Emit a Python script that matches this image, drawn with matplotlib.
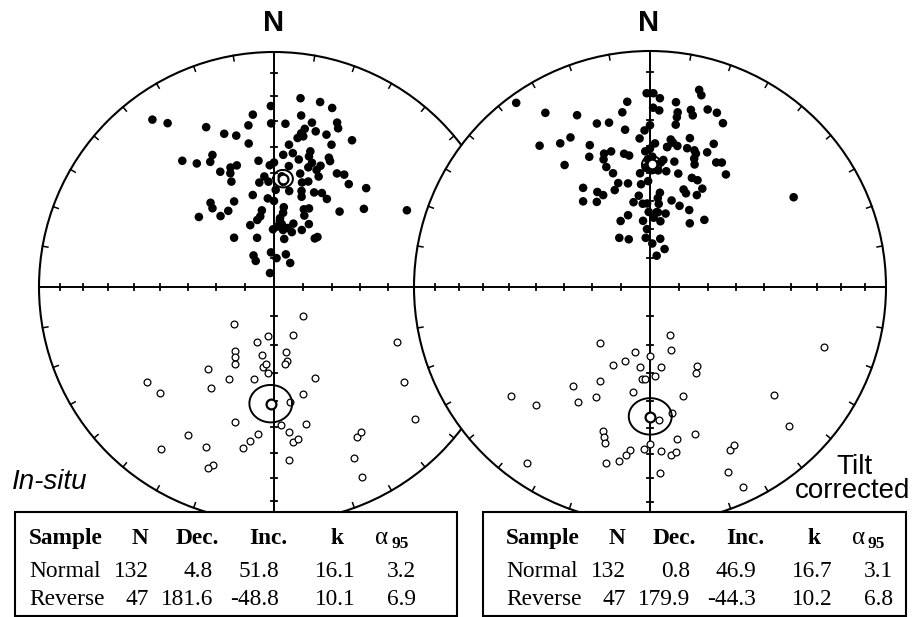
import numpy as np
import matplotlib.pyplot as plt
from matplotlib.patches import Circle, Rectangle

W, H = 917, 617

# site directions, in-situ (geographic) coordinates
insitu_normal_dec = [324, 327, 337, 353, 359, 8, 14, 18, 9, 4,
                     359, 351, 342, 346, 350, 13, 11, 10, 15, 19,
                     21, 22, 28, 9, 11, 6, 22, 15, 4, 8,
                     324, 328, 335, 333, 335, 340, 343, 339, 338, 353,
                     358, 0, 7, 11, 15, 17, 16, 21, 23, 24,
                     20, 13, 22, 29, 32, 36, 43, 4, 5, 355,
                     352, 357, 1, 9, 15, 18, 16, 17, 23, 27,
                     31, 347, 356, 0, 323, 335, 322, 329, 323, 313,
                     41, 49, 60, 7, 7, 21, 24, 23, 351, 349,
                     346, 339, 5, 7, 17, 13, 359, 18, 26, 29,
                     12, 321, 341, 40, 41, 327, 325, 355, 5, 20,
                     34, 344, 5, 3, 9]
insitu_normal_inc = [13, 18, 27, 27, 24, 20, 20, 21, 27, 31,
                     31, 31, 32, 34, 38, 29, 32, 34, 32, 32,
                     26, 28, 30, 36, 35, 39, 35, 40, 43, 42,
                     34, 38, 38, 40, 45, 45, 45, 47, 50, 45,
                     47, 46, 47, 44, 42, 44, 46, 44, 40, 41,
                     46, 49, 48, 44, 43, 45, 42, 51, 53, 51,
                     53, 53, 56, 56, 52, 51, 55, 57, 54, 53,
                     54, 57, 59, 60, 53, 57, 55, 59, 59, 54,
                     55, 48, 35, 62, 64, 61, 60, 63, 63, 65,
                     66, 67, 66, 68, 67, 69, 70, 70, 68, 65,
                     73, 68, 72, 68, 67, 77, 79, 78, 80, 78,
                     80, 85, 67, 69, 70]
insitu_reverse_dec = [135, 227, 187, 158, 114, 197, 211, 209, 190, 170,
                      170, 207, 188, 186, 172, 184, 219, 156, 126, 233,
                      206, 192, 227, 212, 165, 172, 196, 177, 167, 133,
                      210, 174, 173, 171, 186, 189, 151, 149, 215, 203,
                      191, 175, 155, 199, 200, 155]
insitu_reverse_inc = [-76, -71, -73, -72, -42, -70, -64, -62, -66, -67,
                      -64, -60, -62, -63, -63, -60, -53, -55, -32, -33,
                      -54, -57, -34, -48, -51, -49, -40, -41, -40, -19,
                      -28, -38, -34, -35, -37, -34, -28, -29, -17, -27,
                      -31, -27, -21, -21, -19, -12]

# site directions after tilt correction
tilt_normal_dec = [324, 329, 337, 322, 328, 332, 325, 337, 335, 342,
                   346, 353, 351, 351, 356, 359, 1, 3, 1, 3,
                   8, 9, 9, 9, 13, 14, 14, 15, 18, 21,
                   24, 0, 358, 2, 0, 358, 8, 9, 7, 11,
                   15, 15, 18, 19, 23, 24, 20, 19, 11, 28,
                   30, 34, 14, 6, 1, 359, 2, 358, 1, 4,
                   8, 355, 5, 341, 344, 340, 340, 342, 349, 351,
                   348, 343, 340, 355, 359, 326, 331, 333, 322, 328,
                   353, 349, 355, 358, 6, 5, 6, 14, 20, 19,
                   21, 21, 24, 28, 27, 27, 32, 39, 58, 6,
                   12, 359, 343, 336, 354, 9, 357, 328, 336, 355,
                   3, 12, 21, 12, 5, 3, 7, 358]
tilt_normal_inc = [4, 15, 22, 25, 29, 29, 37, 35, 39, 28,
                   29, 22, 26, 33, 37, 19, 19, 21, 25, 26,
                   22, 26, 28, 31, 24, 26, 15, 17, 22, 22,
                   25, 32, 34, 39, 41, 42, 37, 38, 40, 39,
                   35, 39, 39, 40, 38, 34, 44, 42, 45, 40,
                   39, 42, 49, 45, 44, 45, 47, 48, 49, 49,
                   49, 50, 46, 40, 40, 42, 45, 48, 42, 43,
                   53, 52, 54, 54, 53, 48, 52, 54, 52, 55,
                   58, 60, 61, 61, 57, 59, 61, 59, 60, 54,
                   55, 49, 49, 51, 54, 60, 64, 60, 29, 64,
                   64, 64, 64, 65, 67, 67, 70, 70, 72, 73,
                   75, 73, 76, 79, 64, 66, 40, 48]
tilt_reverse_dec = [157, 222, 162, 109, 193, 180, 199, 205, 187, 172,
                    149, 152, 177, 185, 183, 208, 218, 189, 206, 212,
                    232, 224, 163, 131, 170, 176, 198, 197, 196, 170,
                    163, 135, 180, 182, 176, 173, 171, 187, 188, 190,
                    215, 194, 177, 154, 152, 157, 155]
tilt_reverse_inc = [-72, -64, -67, -23, -67, -66, -63, -60, -62, -62,
                    -58, -56, -59, -58, -58, -53, -46, -53, -47, -42,
                    -26, -31, -50, -31, -45, -43, -36, -34, -32, -35,
                    -35, -18, -34, -32, -31, -29, -30, -31, -29, -26,
                    -10, -24, -22, -24, -25, -16, -7]

# mean directions (table values)
sample_names = ["Normal", "Reverse"]
insitu_n = [132, 47]
insitu_dec = [4.8, 181.6]
insitu_inc = [51.8, -48.8]
insitu_k = [16.1, 10.1]
insitu_a95 = [3.2, 6.9]
tilt_n = [132, 47]
tilt_dec = [0.8, 179.9]
tilt_inc = [46.9, -44.3]
tilt_k = [16.7, 10.2]
tilt_a95 = [3.1, 6.8]


def project(dec, inc):
    # Schmidt equal-area projection, unit radius
    d = np.radians(np.asarray(dec, float))
    i = np.radians(np.abs(np.asarray(inc, float)))
    r = np.sqrt(2) * np.sin((np.pi / 2 - i) / 2)
    return r * np.sin(d), r * np.cos(d)


def cone(dec, inc, a95, n=200):
    d, i = np.radians(dec), np.radians(abs(inc))
    m = np.array([np.cos(i) * np.cos(d), np.cos(i) * np.sin(d), np.sin(i)])
    u = np.cross(m, [0, 0, 1.0])
    u /= np.linalg.norm(u)
    w = np.cross(m, u)
    t = np.linspace(0, 2 * np.pi, n)
    a = np.radians(a95)
    v = np.cos(a) * m[:, None] + np.sin(a) * (np.cos(t) * u[:, None] + np.sin(t) * w[:, None])
    return project(np.degrees(np.arctan2(v[1], v[0])), np.degrees(np.arcsin(v[2])))


def make_net(cx, cy, R, z):
    pad = 1.03
    ax = fig.add_axes([(cx - pad * R) / W, (H - cy - pad * R) / H, 2 * pad * R / W, 2 * pad * R / H])
    ax.set_xlim(-pad, pad)
    ax.set_ylim(-pad, pad)
    ax.axis('off')
    ax.set_zorder(z)
    ax.patch.set_alpha(0)
    ax.add_patch(Circle((0, 0), 1, facecolor='white', edgecolor='black', lw=1.5, zorder=0))
    ax.plot([-1, 1], [0, 0], 'k', lw=1.4, zorder=1)
    ax.plot([0, 0], [-1, 1], 'k', lw=1.4, zorder=1)
    for a in range(10, 360, 10):
        if a % 90 == 0:
            continue
        t = np.radians(a)
        ax.plot([0.977 * np.sin(t), np.sin(t)], [0.977 * np.cos(t), np.cos(t)], 'k', lw=1.1, zorder=1)
    rr = project(0, np.arange(10, 90, 10))[1]
    h = 0.012
    for r in rr:
        for s in (-1, 1):
            ax.plot([s * r, s * r], [-h, h], 'k', lw=1.3, zorder=1)
            ax.plot([-h, h], [s * r, s * r], 'k', lw=1.3, zorder=1)
    return ax


def plot_data(ax, ndec, ninc, rdec, rinc, mdec, minc, ma95):
    x, y = project(ndec, ninc)
    ax.scatter(x, y, s=38, c='black', edgecolors='none', zorder=3)
    x, y = project(rdec, rinc)
    ax.scatter(x, y, s=24, facecolors='white', edgecolors='black', linewidths=0.9, zorder=3)
    for d, i, a in zip(mdec, minc, ma95):
        cx, cy = cone(d, i, a)
        ax.plot(cx, cy, 'k', lw=1.4, zorder=4)
        x, y = project(d, i)
        ax.scatter([x], [y], s=50, facecolors='white', edgecolors='black', linewidths=1.6, zorder=5)


fig = plt.figure(figsize=(W / 100, H / 100), dpi=100)

ax1 = make_net(274, 287, 235, 1)
plot_data(ax1, insitu_normal_dec, insitu_normal_inc, insitu_reverse_dec, insitu_reverse_inc,
          insitu_dec, insitu_inc, insitu_a95)
ax2 = make_net(650, 287, 236, 2)
plot_data(ax2, tilt_normal_dec, tilt_normal_inc, tilt_reverse_dec, tilt_reverse_inc,
          tilt_dec, tilt_inc, tilt_a95)

# overlay in pixel coordinates for labels and tables
ov = fig.add_axes([0, 0, 1, 1])
ov.set_xlim(0, W)
ov.set_ylim(H, 0)
ov.axis('off')
ov.set_zorder(5)
ov.patch.set_alpha(0)

sans = 'Liberation Sans'
serif = 'Liberation Serif'
ov.text(274, 23, 'N', fontsize=21, fontweight='bold', family=sans, ha='center', va='center')
ov.text(649, 23, 'N', fontsize=21, fontweight='bold', family=sans, ha='center', va='center')
ov.text(12, 489, 'In-situ', fontsize=20, style='italic', family=sans, ha='left', va='baseline')
ov.text(854, 474, 'Tilt', fontsize=20, family=sans, ha='center', va='baseline')
ov.text(853, 498, 'corrected', fontsize=20, family=sans, ha='center', va='baseline')


def draw_table(x0, x1, off, n, dec, inc, k, a95):
    ov.add_patch(Rectangle((x0, 512), x1 - x0, 104, facecolor='white', edgecolor='black', lw=1.5))
    fs = 16.8
    hy = 544
    ov.text(29 + off, hy, 'Sample', fontsize=fs, fontweight='bold', family=serif, ha='left', va='baseline')
    for label, xc in [('N', 140), ('Dec.', 197), ('Inc.', 268), ('k', 337)]:
        ov.text(xc + off, hy, label, fontsize=fs, fontweight='bold', family=serif, ha='center', va='baseline')
    ov.text(382 + off, hy, 'α', fontsize=18, family=serif, ha='center', va='baseline')
    ov.text(391 + off, hy + 4, '95', fontsize=12.5, fontweight='bold', family=serif, ha='left', va='baseline')
    for row, yb in enumerate([577, 605]):
        ov.text(29 + off, yb, sample_names[row], fontsize=fs, family=serif, ha='left', va='baseline')
        vals = [str(n[row]), f'{dec[row]:.1f}', f'{inc[row]:.1f}', f'{k[row]:.1f}', f'{a95[row]:.1f}']
        for v, xr in zip(vals, [149, 213, 279, 356, 416]):
            ov.text(xr + off, yb, v, fontsize=fs, family=serif, ha='right', va='baseline')


draw_table(15, 457, 0, insitu_n, insitu_dec, insitu_inc, insitu_k, insitu_a95)
draw_table(483, 906, 477, tilt_n, tilt_dec, tilt_inc, tilt_k, tilt_a95)

fig.savefig('out.png', dpi=100, facecolor='white')
